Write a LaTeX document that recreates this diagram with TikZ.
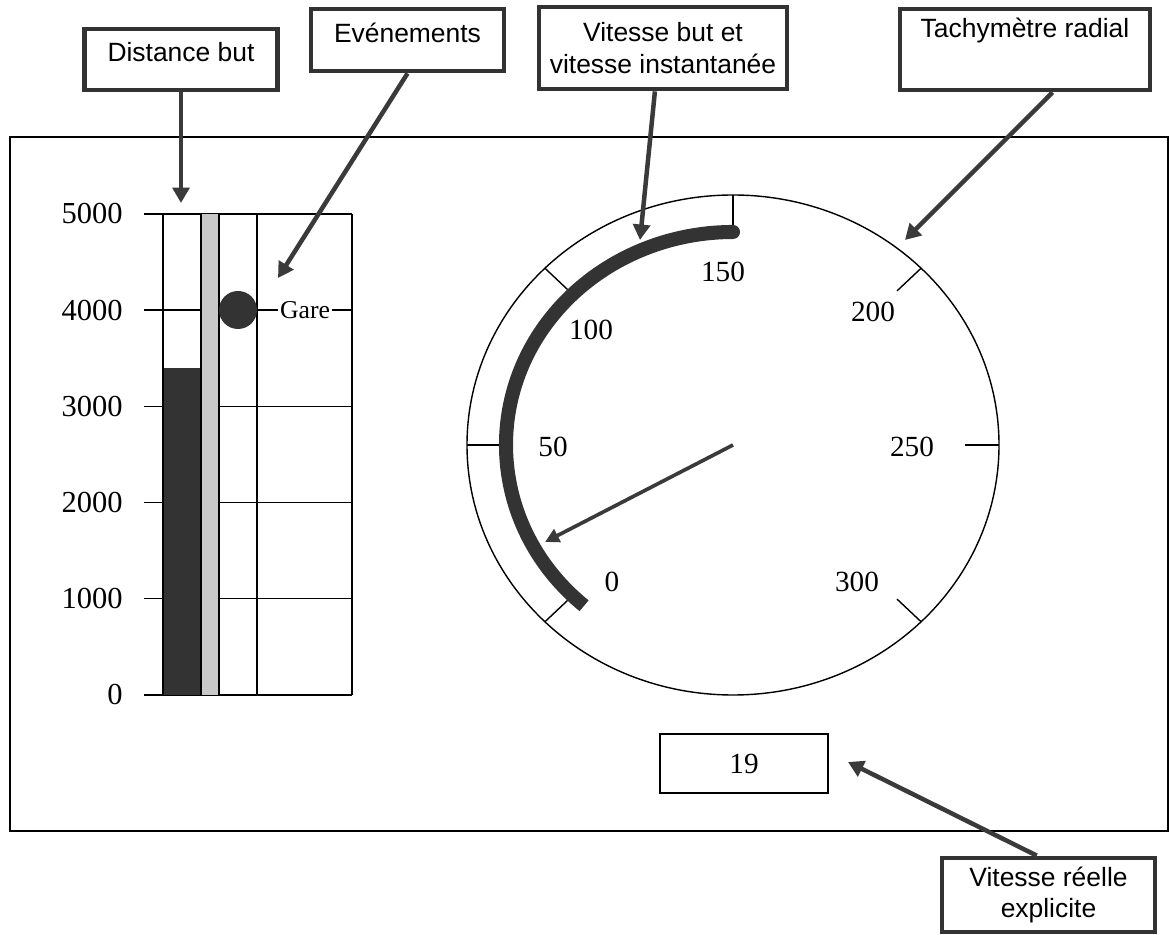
\documentclass[tikz,border=0pt]{standalone}
\usepackage{fontspec}
\setmainfont{Liberation Serif}
\newfontfamily\arialf{Liberation Sans}
\usetikzlibrary{arrows.meta,calc}
\definecolor{dk}{HTML}{333333}
\definecolor{arcol}{HTML}{3A3A3A}
\definecolor{barlight}{HTML}{C8C8C8}
\newcommand{\labelfont}{\arialf\fontsize{18.8}{22.5}\selectfont}
\newcommand{\numfont}{\fontsize{21.7}{25}\selectfont}
\newcommand{\gaugefont}{\fontsize{20.8}{24}\selectfont}
\newcommand{\garefont}{\fontsize{18.3}{22}\selectfont}
\tikzset{
  lbl/.style={draw=dk, line width=3.4pt, fill=white, font=\labelfont, align=center, inner sep=2pt},
  lblup/.style={lbl, text height=13.4pt, text depth=10pt},
  callout/.style={draw=arcol, line width=3.2pt, -{Triangle[length=11pt,width=12pt]}},
  needle/.style={draw=arcol, line width=2.6pt, -{Triangle[length=10pt,width=10pt]}},
  num/.style={font=\numfont, inner sep=0pt},
  gnum/.style={font=\gaugefont, inner sep=0pt},
  gridline/.style={line width=1pt, draw=black},
  gauge/.style={line width=1pt, draw=black},
}
\begin{document}
\begin{tikzpicture}[x=0.025cm,y=0.025cm]
\useasboundingbox (0,0) rectangle (1170,934);
% main frame
\draw[line width=1.1pt] (10,103) rectangle (1168,797);

% ---------------- bar chart ----------------
\foreach \v in {0,1,2,3,4,5} {
  \draw[gridline] (144,{239+96.2*\v}) -- (352,{239+96.2*\v});
}
\fill[dk] (163,239) rectangle (201,566);
\draw[line width=0.6pt, fill=barlight] (201,239) rectangle (219,720.2);
\foreach \x in {163,201,219,257,352} {
  \draw[gridline] (\x,239) -- (\x,720.2);
}
\node[circle, fill=dk, minimum size=0.95cm, inner sep=0pt] (dot) at (238,624) {};
\node[fill=white, inner sep=1.2pt, font=\garefont] (gare) at (305,624) {Gare};
\node[num, anchor=east] (y0) at (123,239) {0};
\node[num, anchor=east] (y1) at (123,335.2) {1000};
\node[num, anchor=east] (y2) at (123,431.4) {2000};
\node[num, anchor=east] (y3) at (123,527.6) {3000};
\node[num, anchor=east] (y4) at (123,623.8) {4000};
\node[num, anchor=east] (y5) at (123,720) {5000};

% ---------------- radial gauge ----------------
\coordinate (hub) at (733,489);
\draw[gauge] (hub) ellipse [x radius=266, y radius=250];
\foreach \a in {225,180,135,90,45,0,-45} {
  \draw[gauge] ($(hub)+(\a:232 and 218)$) -- ($(hub)+(\a:266 and 250)$);
}
\draw[dk, line width=10pt] ($(hub)+(229:227 and 213)$) arc[start angle=229, end angle=90, x radius=227, y radius=213];
\fill[dk] ($(hub)+(90:227 and 213)$) circle[radius=7];
\coordinate (ntip) at (545,392);
\draw[needle] (hub) -- (ntip);
\node[gnum] (g0) at (612,352) {0};
\node[gnum] (g50) at (553,487) {50};
\node[gnum] (g100) at (591,604) {100};
\node[gnum] (g150) at (723,662) {150};
\node[gnum] (g200) at (873,622) {200};
\node[gnum] (g250) at (912,487) {250};
\node[gnum] (g300) at (857,352) {300};

% speed readout
\node[draw, line width=1pt, minimum width=4.2cm, minimum height=1.475cm, font=\gaugefont] (speed) at (744,170.5) {19};

% ---------------- callout labels ----------------
\node[lblup, minimum width=4.825cm, minimum height=1.525cm] (dist) at (181,874.5) {Distance but};
\node[lblup, minimum width=4.825cm, minimum height=1.55cm] (evt) at (407.5,894) {Evénements};
\node[lbl, minimum width=6.2cm, minimum height=2.05cm] (vit) at (663,886) {Vitesse but et\\vitesse instantanée};
\node[lbl, minimum width=6.25cm, minimum height=2.025cm] (tach) at (1025,884.5) {Tachymètre radial\\[2pt]\strut};
\node[lbl, minimum width=5.325cm, minimum height=1.85cm] (reel) at (1048.5,39) {Vitesse réelle\\explicite};

\coordinate (disttip) at (181,731);
\coordinate (evttip) at (278,656);
\coordinate (vittip) at (640,694);
\coordinate (tachtip) at (905,694);
\coordinate (reeltip) at (848,172);

\draw[callout] (dist.south) -- (disttip);
\draw[callout] (evt.south) -- (evttip);
\draw[callout] ($(vit.south west)!0.468!(vit.south east)$) -- (vittip);
\draw[callout] ($(tach.south west)!0.608!(tach.south east)$) -- (tachtip);
\draw[callout] ($(reel.north west)!0.446!(reel.north east)$) -- (reeltip);
\end{tikzpicture}
\end{document}
